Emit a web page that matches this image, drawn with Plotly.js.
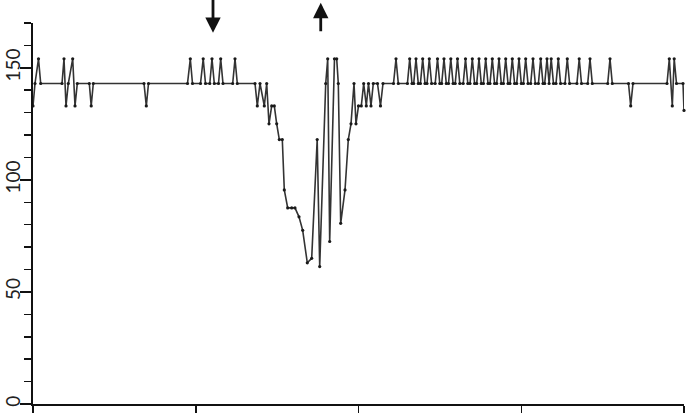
<!DOCTYPE html>
<html>
<head>
<meta charset="utf-8">
<script src="https://cdn.plot.ly/plotly-3.0.1.min.js"></script>
<style>html,body{margin:0;padding:0;background:#fff;}#chart{width:686px;height:413px;}</style>
</head>
<body>
<div id="chart"></div>
<script>
// time (arbitrary units, axis ticks every 10) and rate values
const timeStart = [0, 0.123, 0.338, 0.473, 1.782, 1.905, 2.028, 2.169, 2.439, 2.581, 2.722, 3.459, 3.576, 3.705,
  6.820, 6.962, 7.097, 9.493, 9.665, 9.800, 10.292, 10.458, 10.599, 10.863, 10.998, 11.140, 11.398, 11.533, 11.674,
  12.270, 12.412, 12.553];
const rateStart = [133, 143, 154, 143, 143, 154, 133, 143, 154, 133, 143, 143, 133, 143,
  143, 133, 143, 143, 154, 143, 143, 154, 143, 143, 154, 143, 143, 154, 143,
  143, 154, 143];

const timeDip = [13.641, 13.782, 13.948, 14.212, 14.359, 14.501, 14.667, 14.826, 14.974, 15.134, 15.318, 15.441,
  15.650, 15.896, 16.098, 16.344, 16.571, 16.854, 17.124, 17.462, 17.616, 17.985, 18.108, 18.230, 18.525, 18.661,
  18.759, 18.906, 19.171, 19.373, 19.539, 19.724, 19.846, 20.000, 20.172, 20.319, 20.479, 20.614, 20.768, 20.909,
  21.167, 21.352, 21.505, 22.151, 22.304, 22.446];
const rateDip = [143, 133, 143, 133, 143, 125, 133, 133, 125, 118, 118, 95.5,
  87.5, 87.5, 87.5, 83.5, 77.5, 63, 65, 118, 61.3, 143, 154, 72.5, 154, 154,
  143, 80.6, 95.5, 118, 125, 143, 125, 133, 133, 143, 133, 143, 133, 143,
  143, 133, 143, 143, 154, 143];

const timeEnd = [23.005, 23.146, 23.287, 23.392, 23.533, 23.674, 23.804, 23.945, 24.086, 24.209, 24.350, 24.491,
  24.713, 24.854, 24.995, 25.112, 25.253, 25.394, 25.530, 25.671, 25.812, 25.942, 26.083, 26.224,
  26.434, 26.575, 26.716, 26.852, 26.993, 27.134, 27.263, 27.404, 27.545, 27.675, 27.816, 27.957,
  28.080, 28.221, 28.362, 28.492, 28.633, 28.774, 28.904, 29.045, 29.186, 29.309, 29.450, 29.591,
  29.721, 29.862, 30.003, 30.132, 30.273, 30.414, 30.581, 30.722, 30.863, 31.054, 31.195, 31.336,
  31.441, 31.582, 31.711, 31.840, 31.981, 32.135, 32.276, 32.417, 32.688, 32.829, 32.970,
  33.420, 33.561, 33.702, 34.083, 34.224, 34.365, 35.312, 35.453, 35.594,
  36.590, 36.725, 36.866, 38.956, 39.097, 39.281, 39.398, 39.539, 39.939, 40.0];
const rateEnd = [143, 154, 143, 143, 154, 143, 143, 154, 143, 143, 154, 143,
  143, 154, 143, 143, 154, 143, 143, 154, 143, 143, 154, 143,
  143, 154, 143, 143, 154, 143, 143, 154, 143, 143, 154, 143,
  143, 154, 143, 143, 154, 143, 143, 154, 143, 143, 154, 143,
  143, 154, 143, 143, 154, 143, 143, 154, 143, 143, 154, 143,
  143, 154, 143, 154, 143, 143, 154, 143, 143, 154, 143,
  143, 154, 143, 143, 154, 143, 143, 154, 143,
  143, 133, 143, 143, 154, 133, 154, 143, 143, 131];

const yTickVals = [0, 50, 100, 150];
const yTickText = ['0', '50', '100', '150'];
const xTickVals = [0, 10, 20, 30, 40];
const arrowDownX = 11.06, arrowUpX = 17.68;

const time = timeStart.concat(timeDip, timeEnd);
const rate = rateStart.concat(rateDip, rateEnd);

const trace = {
  x: time, y: rate, type: 'scatter', mode: 'lines+markers',
  line: {color: '#333', width: 1.6},
  marker: {color: '#1a1a1a', size: 3.2},
  cliponaxis: false, hoverinfo: 'skip'
};

const layout = {
  width: 686, height: 413,
  margin: {l: 33, r: 2, t: 23, b: 9},
  paper_bgcolor: '#fff', plot_bgcolor: '#fff',
  showlegend: false,
  font: {family: 'Lato, "DejaVu Sans", sans-serif', color: '#222'},
  xaxis: {
    range: [0, 40], tickvals: xTickVals, showticklabels: false,
    ticks: 'outside', ticklen: 12, tickwidth: 1.5, tickcolor: '#111',
    showline: true, linecolor: '#111', linewidth: 2,
    showgrid: false, zeroline: false, fixedrange: true
  },
  yaxis: {
    range: [0, 170], tickvals: yTickVals, ticktext: yTickText,
    ticks: 'outside', ticklen: 11, tickwidth: 1.5, tickcolor: '#111',
    tickangle: -90, tickfont: {size: 19, color: '#222'},
    ticklabelstandoff: -8,
    minor: {dtick: 10, ticks: 'outside', ticklen: 7, tickwidth: 1.5, tickcolor: '#111'},
    showline: true, linecolor: '#111', linewidth: 2,
    showgrid: false, zeroline: false, fixedrange: true
  },
  annotations: [
    {x: arrowDownX, y: 165.6, ax: arrowDownX, ay: 181, xref: 'x', yref: 'y', axref: 'x', ayref: 'y',
     text: '', showarrow: true, arrowhead: 2, arrowsize: 1.1, arrowwidth: 2.8, arrowcolor: '#111'},
    {x: arrowUpX, y: 179, ax: arrowUpX, ay: 165.6, xref: 'x', yref: 'y', axref: 'x', ayref: 'y',
     text: '', showarrow: true, arrowhead: 2, arrowsize: 1.1, arrowwidth: 2.8, arrowcolor: '#111'}
  ]
};

Plotly.newPlot('chart', [trace], layout, {displayModeBar: false, staticPlot: true});
</script>
</body>
</html>
